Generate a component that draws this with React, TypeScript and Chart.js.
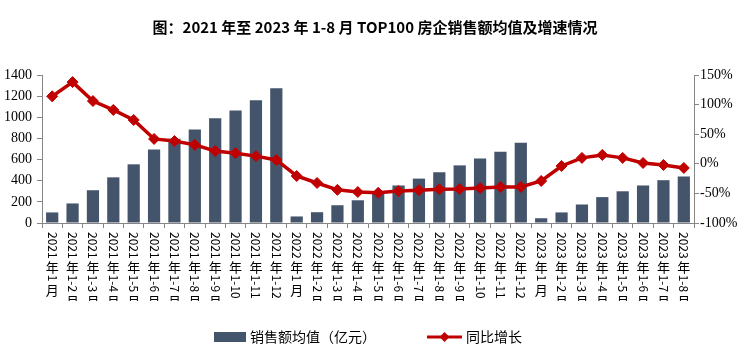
import React, { useEffect, useRef } from 'react';
import { Chart, registerables } from 'chart.js';

Chart.register(...registerables);

const categories = [
  '2021年1月', '2021年1-2月', '2021年1-3月', '2021年1-4月', '2021年1-5月', '2021年1-6月',
  '2021年1-7月', '2021年1-8月', '2021年1-9月', '2021年1-10月', '2021年1-11月', '2021年1-12月',
  '2022年1月', '2022年1-2月', '2022年1-3月', '2022年1-4月', '2022年1-5月', '2022年1-6月',
  '2022年1-7月', '2022年1-8月', '2022年1-9月', '2022年1-10月', '2022年1-11月', '2022年1-12月',
  '2023年1月', '2023年1-2月', '2023年1-3月', '2023年1-4月', '2023年1-5月', '2023年1-6月',
  '2023年1-7月', '2023年1-8月',
];

const salesAvg = [
  100, 185, 310, 432, 555, 695, 798, 885, 990, 1065, 1160, 1275,
  62, 102, 168, 215, 283, 355, 420, 480, 545, 610, 675, 760,
  45, 100, 175, 245, 300, 355, 405, 440,
];

const yoyGrowth = [
  114, 138, 106, 91, 74, 42, 38.5, 32, 21.6, 18, 13, 6.5,
  -20.6, -32.4, -44, -47.6, -49, -46, -44.5, -43, -42.5, -41, -39, -39,
  -29, -3.7, 10, 15, 10, 1.4, -2, -7,
];

const seriesNames = ['销售额均值（亿元）', '同比增长'];
const titleText = '图：2021 年至 2023 年 1-8 月 TOP100 房企销售额均值及增速情况';

const BAR_COLOR = '#44546A';
const LINE_COLOR = '#C00000';
const AXIS_COLOR = '#868686';
const SERIF = '"Liberation Serif", "Times New Roman", "DejaVu Serif", serif';

const isCJK = (ch: string) => /[\u3000-\u9fff\uff00-\uffef]/.test(ch);

const verticalLabelsPlugin = {
  id: 'verticalLabels',
  afterDraw(chart: any) {
    const { ctx, chartArea } = chart;
    const xs = chart.scales.x;
    const labels: string[] = chart.data.labels;
    ctx.save();
    ctx.beginPath();
    ctx.rect(0, chartArea.bottom + 1, chart.width, 300 - chartArea.bottom);
    ctx.clip();
    ctx.fillStyle = '#000';
    labels.forEach((lab, i) => {
      const cx = xs.getPixelForValue(i);
      let y = chartArea.bottom + 9;
      const runs: { text: string; cjk: boolean }[] = [];
      for (const ch of lab) {
        const c = isCJK(ch);
        const last = runs[runs.length - 1];
        if (!c && last && !last.cjk) last.text += ch;
        else runs.push({ text: ch, cjk: c });
      }
      runs.forEach((r) => {
        if (r.cjk) {
          ctx.font = '13px "Noto Sans CJK SC"';
          ctx.textAlign = 'center';
          ctx.textBaseline = 'top';
          ctx.fillText(r.text, cx, y);
          y += 14;
        } else {
          ctx.font = '12px "Noto Sans CJK SC"';
          ctx.save();
          ctx.translate(cx, y);
          ctx.rotate(Math.PI / 2);
          ctx.textAlign = 'left';
          ctx.textBaseline = 'middle';
          ctx.fillText(r.text, 0, 0);
          ctx.restore();
          y += ctx.measureText(r.text).width + 2;
        }
      });
    });
    ctx.restore();
  },
};

const customLegendPlugin = {
  id: 'customLegend',
  afterDraw(chart: any) {
    const { ctx } = chart;
    const cy = 337;
    ctx.save();
    ctx.font = '14px "Noto Sans CJK SC"';
    ctx.textBaseline = 'middle';
    ctx.textAlign = 'left';
    ctx.fillStyle = BAR_COLOR;
    ctx.fillRect(214, cy - 5, 32, 10);
    ctx.fillStyle = '#000';
    ctx.fillText(seriesNames[0], 250, cy);
    ctx.strokeStyle = LINE_COLOR;
    ctx.lineWidth = 3;
    ctx.beginPath();
    ctx.moveTo(427, cy);
    ctx.lineTo(462, cy);
    ctx.stroke();
    ctx.fillStyle = LINE_COLOR;
    ctx.beginPath();
    const dx = 444.5;
    ctx.moveTo(dx, cy - 5);
    ctx.lineTo(dx + 5, cy);
    ctx.lineTo(dx, cy + 5);
    ctx.lineTo(dx - 5, cy);
    ctx.closePath();
    ctx.fill();
    ctx.fillStyle = '#000';
    ctx.fillText(seriesNames[1], 466, cy);
    ctx.restore();
  },
};

export default function App() {
  const canvasRef = useRef<HTMLCanvasElement | null>(null);

  useEffect(() => {
    document.body.style.margin = '0';
    const canvas = canvasRef.current;
    if (!canvas) return;
    const chart = new Chart(canvas, {
      type: 'bar',
      data: {
        labels: categories,
        datasets: [
          {
            type: 'line',
            label: seriesNames[1],
            data: yoyGrowth,
            yAxisID: 'y1',
            borderColor: LINE_COLOR,
            backgroundColor: LINE_COLOR,
            borderWidth: 3.5,
            pointStyle: 'rectRot',
            pointRadius: 5.5,
            pointBackgroundColor: LINE_COLOR,
            pointBorderColor: LINE_COLOR,
            pointBorderWidth: 1,
            tension: 0,
            order: 0,
          } as any,
          {
            type: 'bar',
            label: seriesNames[0],
            data: salesAvg,
            yAxisID: 'y',
            backgroundColor: BAR_COLOR,
            barPercentage: 0.6,
            categoryPercentage: 1,
            order: 1,
          },
        ],
      },
      options: {
        responsive: false,
        animation: false,
        layout: { padding: { left: 0, right: 0, top: 0, bottom: 0 } },
        plugins: {
          legend: { display: false },
          tooltip: { enabled: false },
          title: {
            display: true,
            text: titleText,
            color: '#000',
            font: { family: '"Noto Sans CJK SC"', size: 15, weight: 'bold' },
            padding: { top: 18, bottom: 39 },
          },
        },
        scales: {
          x: {
            offset: true,
            grid: {
              display: true,
              drawOnChartArea: false,
              drawTicks: true,
              tickLength: 5,
              color: AXIS_COLOR,
              offset: true,
            },
            border: { color: AXIS_COLOR, width: 1 },
            ticks: { display: false },
            afterFit: (scale: any) => {
              scale.height = 134;
            },
          },
          y: {
            position: 'left',
            min: 0,
            max: 1400,
            ticks: {
              stepSize: 200,
              color: '#000',
              padding: 5,
              font: { family: SERIF, size: 14 },
              callback: (v: any) => String(v),
            },
            grid: {
              drawOnChartArea: false,
              drawTicks: true,
              tickLength: 5,
              color: AXIS_COLOR,
            },
            border: { color: AXIS_COLOR, width: 1 },
            afterFit: (scale: any) => {
              scale.width = 42;
            },
          },
          y1: {
            position: 'right',
            min: -100,
            max: 150,
            ticks: {
              stepSize: 50,
              color: '#000',
              padding: 1,
              font: { family: SERIF, size: 14 },
              callback: (v: any) => `${v}%`,
            },
            grid: {
              drawOnChartArea: false,
              drawTicks: true,
              tickLength: 5,
              color: AXIS_COLOR,
            },
            border: { color: AXIS_COLOR, width: 1 },
            afterFit: (scale: any) => {
              scale.width = 56;
            },
          },
        },
      } as any,
      plugins: [verticalLabelsPlugin, customLegendPlugin],
    });
    return () => chart.destroy();
  }, []);

  return (
    <div style={{ position: 'absolute', left: 0, top: 0, width: 750, height: 357, background: '#fff' }}>
      <canvas ref={canvasRef} width={750} height={357} style={{ width: 750, height: 357 }} />
    </div>
  );
}
